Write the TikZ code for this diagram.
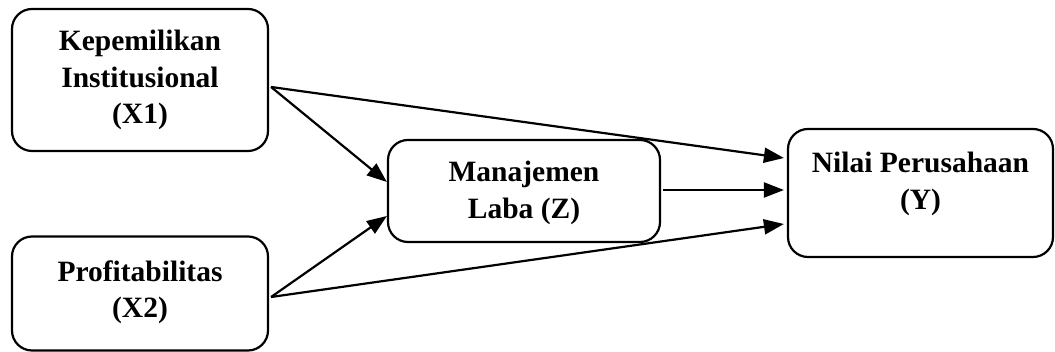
\documentclass[tikz,border=0pt]{standalone}
\usepackage{fontspec}
\setmainfont{Liberation Serif}
\usetikzlibrary{arrows.meta,calc}
\begin{document}
\begin{tikzpicture}[x=1pt,y=1pt,
  box/.style={draw, line width=2.2pt, rounded corners=20pt, inner sep=0pt},
  lbl/.style={align=center, font=\fontsize{29.5}{36.5}\selectfont\bfseries, inner sep=0pt},
  arr/.style={line width=2.2pt, -{Triangle[length=20pt,width=15pt]}}]
\useasboundingbox (0,0) rectangle (1055,352);
% boxes (y up: y = 352 - ypx)
\node[box, minimum width=256pt, minimum height=142pt] (x1) at (140,272) {};
\node[box, minimum width=256pt, minimum height=114pt] (x2) at (140,58.5) {};
\node[box, minimum width=272pt, minimum height=102pt] (z) at (524,161) {};
\node[box, minimum width=265pt, minimum height=128pt] (y) at (920.5,159) {};
% labels
\node[lbl] (tx1) at (x1.center) {Kepemilikan\\Institusional\\(X1)};
\node[lbl] (tx2) at ($(x2.center)+(0,1)$) {Profitabilitas\\(X2)};
\node[lbl] (tz) at ($(z.center)+(0,-2)$) {Manajemen\\Laba (Z)};
\node[lbl] (ty) at ($(y.center)+(0,9)$) {Nilai Perusahaan\\(Y)};
% arrows
\draw[arr] ($(x1.east)+(2,-7)$) -- ($(z.west)+(0,9)$);
\draw[arr] ($(x1.east)+(2,-7)$) -- ($(y.west)+(-3,35)$);
\draw[arr] ($(x2.east)+(2,-3.5)$) -- ($(z.west)+(0,-25)$);
\draw[arr] ($(x2.east)+(2,-3.5)$) -- ($(y.west)+(-3,-31)$);
\draw[arr] ($(z.east)+(2,1)$) -- ($(y.west)+(-3,3)$);
\end{tikzpicture}
\end{document}
